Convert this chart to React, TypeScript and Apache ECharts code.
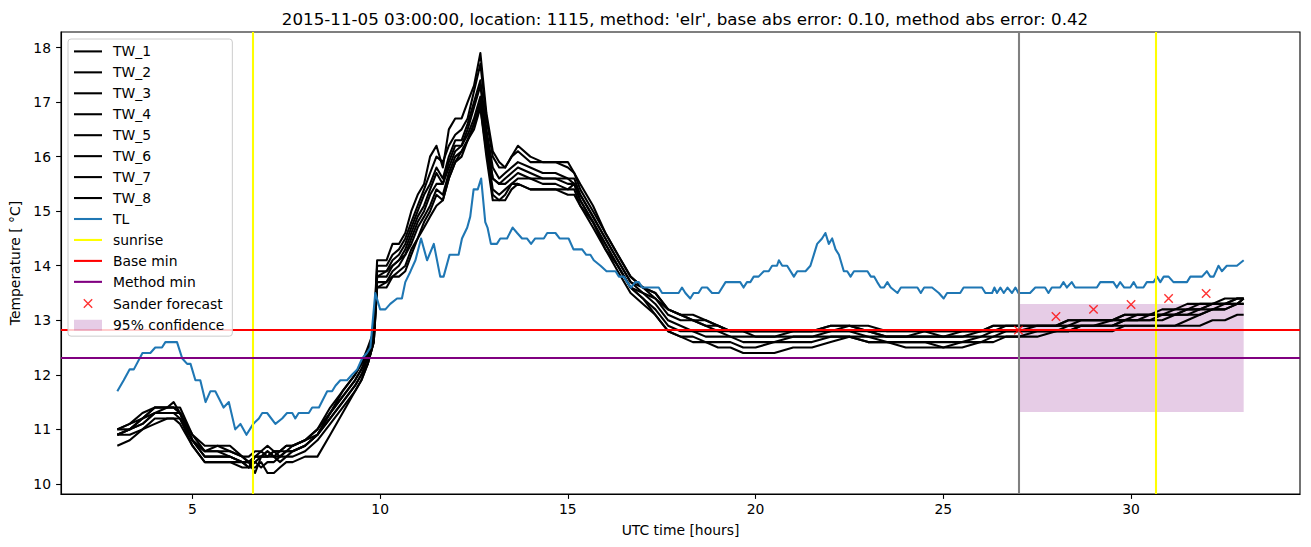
import React, { useEffect, useRef } from "react";
import * as echarts from "echarts";

// ---------- DATA ----------
const titleText =
  "2015-11-05 03:00:00, location: 1115, method: 'elr', base abs error: 0.10, method abs error: 0.42";

const xTicks = [5, 10, 15, 20, 25, 30];
const yTicks = [10, 11, 12, 13, 14, 15, 16, 17, 18];

// TL readings: [UTC hour, temperature]
const tlReadings: number[][] = [
  [3.0, 11.7], [3.17, 11.9], [3.33, 12.1], [3.44, 12.1], [3.67, 12.4], [3.88, 12.4], [4.01, 12.5], [4.19, 12.5], [4.28, 12.6], [4.59, 12.6],
  [4.73, 12.3], [4.86, 12.2], [4.95, 12.2], [5.08, 11.9], [5.21, 11.9], [5.35, 11.5], [5.48, 11.7], [5.61, 11.7], [5.83, 11.4], [5.97, 11.5],
  [6.14, 11.0], [6.28, 11.1], [6.44, 10.9], [6.62, 11.1], [6.77, 11.2], [6.86, 11.3], [6.99, 11.3], [7.21, 11.1], [7.39, 11.2], [7.52, 11.3],
  [7.66, 11.3], [7.74, 11.2], [7.83, 11.3], [8.1, 11.3], [8.19, 11.4], [8.37, 11.4], [8.59, 11.7], [8.72, 11.7], [8.81, 11.8], [8.94, 11.9],
  [9.12, 11.9], [9.25, 12.0], [9.39, 12.1], [9.52, 12.3], [9.65, 12.4], [9.74, 12.5], [9.87, 13.5], [10.0, 13.2], [10.14, 13.2], [10.27, 13.3],
  [10.45, 13.4], [10.58, 13.4], [10.67, 13.7], [10.81, 13.9], [10.94, 14.1], [11.09, 14.5], [11.25, 14.1], [11.43, 14.4], [11.6, 13.8], [11.69, 13.8],
  [11.85, 14.2], [12.09, 14.2], [12.18, 14.5], [12.32, 14.7], [12.4, 14.9], [12.49, 15.4], [12.6, 15.4], [12.69, 15.6], [12.8, 14.8], [12.86, 14.7],
  [12.95, 14.4], [13.11, 14.4], [13.2, 14.5], [13.38, 14.5], [13.53, 14.7], [13.65, 14.6], [13.78, 14.5], [13.91, 14.5], [14.02, 14.4], [14.13, 14.5],
  [14.36, 14.5], [14.45, 14.6], [14.67, 14.6], [14.78, 14.5], [15.02, 14.5], [15.15, 14.3], [15.38, 14.3], [15.49, 14.2], [15.6, 14.2], [15.69, 14.1],
  [15.87, 14.0], [16.03, 13.9], [16.27, 13.9], [16.36, 13.8], [16.49, 13.8], [16.58, 13.7], [16.68, 13.6], [16.8, 13.7], [16.89, 13.7], [16.98, 13.6],
  [17.42, 13.6], [17.51, 13.5], [17.95, 13.5], [18.04, 13.6], [18.13, 13.5], [18.26, 13.4], [18.35, 13.5], [18.48, 13.5], [18.57, 13.6], [18.71, 13.6],
  [18.84, 13.5], [19.02, 13.5], [19.2, 13.7], [19.59, 13.7], [19.68, 13.6], [19.77, 13.7], [19.86, 13.7], [19.95, 13.8], [20.08, 13.8], [20.22, 13.9],
  [20.35, 13.9], [20.44, 14.0], [20.57, 14.0], [20.62, 14.1], [20.71, 14.0], [20.84, 14.0], [21.02, 13.8], [21.11, 13.9], [21.33, 13.9], [21.46, 14.0],
  [21.55, 14.2], [21.64, 14.4], [21.77, 14.5], [21.86, 14.6], [21.95, 14.4], [22.04, 14.5], [22.13, 14.3], [22.22, 14.2], [22.35, 13.9], [22.44, 13.9],
  [22.53, 13.8], [22.62, 13.9], [22.98, 13.9], [23.07, 13.8], [23.16, 13.8], [23.24, 13.7], [23.33, 13.6], [23.42, 13.6], [23.51, 13.7], [23.6, 13.6],
  [23.78, 13.5], [23.87, 13.6], [24.31, 13.6], [24.4, 13.5], [24.49, 13.6], [24.7, 13.6], [24.88, 13.5], [25.01, 13.4], [25.1, 13.5], [25.45, 13.5],
  [25.54, 13.6], [26.03, 13.6], [26.12, 13.5], [26.3, 13.5], [26.36, 13.6], [26.43, 13.5], [26.52, 13.6], [26.61, 13.5], [26.71, 13.6], [26.83, 13.5],
  [26.92, 13.6], [27.0, 13.5], [27.31, 13.5], [27.45, 13.6], [27.71, 13.6], [27.8, 13.5], [27.89, 13.6], [28.11, 13.6], [28.2, 13.7], [28.29, 13.6],
  [28.42, 13.7], [28.51, 13.6], [29.09, 13.6], [29.18, 13.7], [29.53, 13.7], [29.62, 13.6], [29.71, 13.7], [29.82, 13.6], [29.98, 13.6], [30.07, 13.7],
  [30.15, 13.6], [30.33, 13.6], [30.42, 13.7], [30.6, 13.7], [30.69, 13.8], [30.78, 13.7], [30.87, 13.8], [31.0, 13.8], [31.13, 13.7], [31.49, 13.7],
  [31.58, 13.8], [31.89, 13.8], [32.02, 13.9], [32.11, 13.8], [32.2, 13.8], [32.33, 14.0], [32.42, 13.9], [32.55, 14.0], [32.82, 14.0], [33.0, 14.1],
];

// Common time stamps of the TW sensor readings
const twHours = [
  3.0, 3.33, 3.67, 4.0, 4.33, 4.5, 4.67, 5.0, 5.33, 5.67, 6.0, 6.33, 6.5, 6.67, 6.83, 7.0, 7.17, 7.33, 7.5, 7.67,
  8.0, 8.33, 8.67, 9.0, 9.33, 9.5, 9.67, 9.83,
  9.92, 10.17, 10.33, 10.5, 10.67, 10.83, 11.0, 11.17, 11.33, 11.5, 11.67, 11.83, 12.0, 12.17, 12.33, 12.5, 12.67,
  12.83, 13.0, 13.17, 13.33, 13.5, 13.67, 14.0, 14.33, 14.67, 15.0, 15.17, 15.33, 15.67, 16.0, 16.33, 16.67, 17.0, 17.33,
  17.67, 18.0, 18.33, 18.67, 19.0, 19.33, 19.67, 20.0, 20.5, 21.0, 21.5, 22.0, 22.5, 23.0, 23.5, 24.0, 24.5, 25.0, 25.5, 26.0, 26.33, 26.67, 27.0,
  27.5, 28.0, 28.33, 28.67, 29.0, 29.5, 29.83, 30.17, 30.5, 30.83, 31.17, 31.5, 31.83, 32.17, 32.5, 32.83, 33.0,
];

const TW_1 = [
  11.0, 11.1, 11.3, 11.4, 11.4, 11.5, 11.3, 10.8, 10.6, 10.6, 10.6, 10.5, 10.5, 10.6, 10.6, 10.7, 10.6, 10.6, 10.7, 10.7,
  10.8, 11.0, 11.4, 11.7, 12.0, 12.2, 12.5, 12.8,
  14.1, 14.1, 14.4, 14.4, 14.6, 15.0, 15.3, 15.5, 16.0, 16.2, 15.8, 16.5, 16.7, 16.7, 17.0, 17.3, 17.9,
  16.8, 16.1, 15.9, 15.8, 16.0, 16.2, 16.0, 15.9, 15.9, 15.9, 15.7, 15.5, 15.1, 14.6, 14.2, 13.8, 13.6, 13.5,
  13.2, 13.1, 13.1, 13.0, 12.9, 12.8, 12.8, 12.8, 12.8, 12.8, 12.8, 12.9, 12.9, 12.9, 12.8, 12.8, 12.8, 12.8, 12.8, 12.8, 12.9, 12.9, 12.9,
  12.9, 12.9, 13.0, 13.0, 13.0, 13.0, 13.1, 13.1, 13.1, 13.2, 13.2, 13.3, 13.3, 13.3, 13.4, 13.4, 13.4,
];
const TW_2 = [
  11.0, 11.1, 11.2, 11.4, 11.4, 11.4, 11.3, 10.9, 10.6, 10.7, 10.7, 10.5, 10.4, 10.5, 10.6, 10.5, 10.6, 10.6, 10.6, 10.7,
  10.8, 11.0, 11.3, 11.7, 12.0, 12.2, 12.4, 12.8,
  14.0, 14.0, 14.2, 14.3, 14.5, 14.8, 15.1, 15.4, 15.7, 16.0, 15.9, 16.2, 16.4, 16.5, 16.7, 17.2, 17.7,
  16.7, 16.0, 15.8, 15.8, 16.0, 16.1, 15.9, 15.9, 15.9, 15.8, 15.7, 15.4, 15.0, 14.6, 14.2, 13.8, 13.6, 13.5,
  13.2, 13.1, 13.0, 13.0, 12.9, 12.8, 12.8, 12.8, 12.8, 12.8, 12.8, 12.9, 12.9, 12.8, 12.8, 12.8, 12.8, 12.8, 12.8, 12.8, 12.9, 12.9, 12.9,
  12.9, 12.9, 13.0, 13.0, 13.0, 13.0, 13.1, 13.1, 13.1, 13.1, 13.2, 13.2, 13.3, 13.3, 13.3, 13.4, 13.4,
];
const TW_3 = [
  10.9, 11.0, 11.2, 11.3, 11.4, 11.4, 11.4, 10.9, 10.7, 10.7, 10.6, 10.5, 10.4, 10.5, 10.5, 10.6, 10.5, 10.6, 10.7, 10.7,
  10.8, 10.9, 11.3, 11.6, 11.9, 12.1, 12.4, 12.7,
  13.9, 13.9, 14.1, 14.2, 14.4, 14.7, 15.0, 15.3, 15.5, 15.8, 15.6, 16.0, 16.3, 16.3, 16.6, 17.0, 17.4,
  16.5, 15.8, 15.6, 15.7, 15.8, 15.9, 15.8, 15.7, 15.7, 15.6, 15.6, 15.3, 14.9, 14.5, 14.1, 13.7, 13.6, 13.4,
  13.2, 13.1, 13.0, 12.9, 12.9, 12.8, 12.8, 12.8, 12.8, 12.8, 12.8, 12.8, 12.9, 12.8, 12.7, 12.7, 12.8, 12.7, 12.8, 12.8, 12.8, 12.9, 12.9,
  12.9, 12.9, 12.9, 13.0, 13.0, 13.0, 13.0, 13.1, 13.1, 13.1, 13.1, 13.2, 13.2, 13.3, 13.3, 13.4, 13.4,
];
const TW_4 = [
  10.9, 11.0, 11.1, 11.3, 11.3, 11.3, 11.2, 10.8, 10.5, 10.5, 10.5, 10.4, 10.4, 10.4, 10.5, 10.5, 10.6, 10.5, 10.6, 10.6,
  10.7, 10.9, 11.3, 11.6, 11.9, 12.1, 12.3, 12.7,
  13.8, 13.9, 14.0, 14.1, 14.3, 14.6, 14.9, 15.1, 15.4, 15.7, 15.5, 15.9, 16.2, 16.2, 16.5, 16.9, 17.3,
  16.4, 15.6, 15.5, 15.6, 15.7, 15.8, 15.7, 15.6, 15.6, 15.5, 15.5, 15.3, 14.9, 14.5, 14.1, 13.7, 13.5, 13.4,
  13.1, 13.0, 13.0, 12.9, 12.8, 12.8, 12.8, 12.7, 12.7, 12.8, 12.8, 12.8, 12.8, 12.8, 12.7, 12.7, 12.7, 12.7, 12.7, 12.8, 12.8, 12.8, 12.8,
  12.9, 12.9, 12.9, 12.9, 12.9, 13.0, 13.0, 13.0, 13.1, 13.1, 13.1, 13.2, 13.2, 13.3, 13.3, 13.3, 13.4,
];
const TW_5 = [
  10.9, 11.0, 11.1, 11.3, 11.3, 11.3, 11.3, 10.8, 10.5, 10.5, 10.5, 10.4, 10.3, 10.5, 10.5, 10.6, 10.5, 10.5, 10.6, 10.6,
  10.7, 10.9, 11.2, 11.5, 11.8, 12.0, 12.3, 12.7,
  13.8, 13.8, 14.0, 14.1, 14.2, 14.5, 14.8, 15.0, 15.3, 15.5, 15.5, 15.8, 16.1, 16.2, 16.4, 16.7, 17.1,
  16.3, 15.6, 15.5, 15.5, 15.6, 15.7, 15.6, 15.6, 15.6, 15.6, 15.5, 15.2, 14.8, 14.4, 14.0, 13.6, 13.5, 13.3,
  13.0, 12.9, 12.8, 12.8, 12.8, 12.7, 12.7, 12.7, 12.7, 12.7, 12.7, 12.8, 12.8, 12.7, 12.7, 12.7, 12.7, 12.7, 12.7, 12.7, 12.8, 12.8, 12.8,
  12.8, 12.8, 12.9, 12.9, 12.9, 12.9, 13.0, 13.0, 13.0, 13.1, 13.1, 13.1, 13.2, 13.2, 13.3, 13.3, 13.4,
];
const TW_6 = [
  11.0, 11.0, 11.2, 11.4, 11.4, 11.4, 11.3, 10.8, 10.6, 10.6, 10.5, 10.4, 10.4, 10.2, 10.5, 10.5, 10.5, 10.4, 10.5, 10.6,
  10.7, 10.9, 11.2, 11.5, 11.8, 12.0, 12.2, 12.6,
  13.7, 13.7, 13.9, 14.0, 14.2, 14.4, 14.7, 14.9, 15.1, 15.4, 15.3, 15.7, 16.0, 16.1, 16.3, 16.6, 17.0,
  16.2, 15.4, 15.3, 15.4, 15.5, 15.6, 15.6, 15.5, 15.5, 15.4, 15.5, 15.2, 14.8, 14.4, 14.0, 13.6, 13.4, 13.2,
  12.9, 12.8, 12.8, 12.7, 12.7, 12.7, 12.6, 12.6, 12.6, 12.7, 12.7, 12.7, 12.7, 12.7, 12.6, 12.6, 12.6, 12.6, 12.6, 12.7, 12.7, 12.8, 12.8,
  12.8, 12.8, 12.8, 12.9, 12.9, 12.9, 13.0, 13.0, 13.0, 13.0, 13.1, 13.1, 13.1, 13.2, 13.2, 13.3, 13.3,
];
const TW_7 = [
  10.9, 10.9, 11.0, 11.2, 11.2, 11.2, 11.2, 10.7, 10.4, 10.4, 10.4, 10.4, 10.3, 10.4, 10.3, 10.4, 10.4, 10.5, 10.5, 10.5,
  10.6, 10.8, 11.1, 11.4, 11.7, 11.9, 12.2, 12.6,
  13.6, 13.7, 13.8, 13.9, 14.0, 14.3, 14.5, 14.8, 15.0, 15.3, 15.2, 15.6, 15.9, 16.1, 16.3, 16.6, 16.9,
  16.1, 15.3, 15.2, 15.3, 15.5, 15.5, 15.4, 15.4, 15.4, 15.4, 15.4, 15.1, 14.8, 14.3, 14.0, 13.6, 13.4, 13.1,
  12.8, 12.7, 12.7, 12.6, 12.6, 12.6, 12.5, 12.5, 12.6, 12.6, 12.6, 12.7, 12.7, 12.6, 12.6, 12.6, 12.6, 12.5, 12.6, 12.6, 12.7, 12.7, 12.7,
  12.8, 12.8, 12.8, 12.9, 12.9, 12.9, 12.9, 12.9, 12.9, 12.9, 12.9, 13.0, 13.1, 13.2, 13.2, 13.3, 13.3,
];
const TW_8 = [
  10.7, 10.8, 11.0, 11.1, 11.2, 11.2, 11.1, 10.7, 10.4, 10.4, 10.4, 10.3, 10.3, 10.3, 10.4, 10.2, 10.2, 10.3, 10.4, 10.4,
  10.5, 10.5, 10.9, 11.3, 11.7, 11.9, 12.2, 12.6,
  13.6, 13.6, 13.8, 13.8, 13.9, 14.2, 14.5, 14.7, 14.9, 15.1, 15.2, 15.6, 15.9, 16.0, 16.3, 16.5, 16.9,
  16.0, 15.2, 15.2, 15.2, 15.4, 15.5, 15.4, 15.4, 15.4, 15.3, 15.3, 15.1, 14.7, 14.3, 13.9, 13.5, 13.3, 13.1,
  12.8, 12.7, 12.6, 12.6, 12.5, 12.5, 12.4, 12.4, 12.4, 12.5, 12.5, 12.6, 12.7, 12.6, 12.6, 12.5, 12.5, 12.5, 12.5, 12.6, 12.6, 12.7, 12.7,
  12.7, 12.8, 12.8, 12.8, 12.8, 12.8, 12.9, 12.9, 12.9, 12.9, 12.9, 12.9, 12.9, 13.0, 13.0, 13.1, 13.1,
];
const twSeriesValues = [TW_1, TW_2, TW_3, TW_4, TW_5, TW_6, TW_7, TW_8];

const sunriseHours = [6.62, 30.65];
const forecastStartHour = 27;
const baseMin = 12.82;
const methodMin = 12.31;
const forecastHours = [27, 28, 29, 30, 31, 32];
const forecastTemps = [12.82, 13.07, 13.2, 13.29, 13.4, 13.49];
const confidenceHours = [27, 33];
const confidenceTemps = [11.32, 13.3];

// ---------- STYLE ----------
const FONT = "DejaVu Sans";
const BLACK = "#000000";
const TL_BLUE = "#1f77b4";
const YELLOW = "#ffff00";
const RED = "#ff0000";
const PURPLE = "#800080";
const GRAY = "#808080";
const CONF_FILL = "rgba(128,0,128,0.2)";
const LW = 2.08; // 1.5 pt at 100 dpi
const SPINE = 1.1;

const lineIcon = "path://M0,0M34,14M0,5.96L28,5.96L28,8.04L0,8.04Z";
const crossIcon = "path://M0,0M34,14M9.8,2.8L18.2,11.2M18.2,2.8L9.8,11.2";
const patchIcon = "path://M0,0M34,14M0,1.6L28,1.6L28,12.4L0,12.4Z";

function buildOption() {
  const twNames = twSeriesValues.map((_, i) => `TW_${i + 1}`);
  const series: any[] = [];

  twSeriesValues.forEach((vals, i) => {
    series.push({
      type: "line",
      name: twNames[i],
      data: twHours.map((h, j) => [h, vals[j]]),
      showSymbol: false,
      symbol: "none",
      color: BLACK,
      lineStyle: { color: BLACK, width: LW, join: "round" },
      emphasis: { disabled: true },
      silent: true,
      z: 2,
    });
  });

  series.push({
    type: "line",
    name: "TL",
    data: tlReadings.map((p) => [p[0], p[1]]),
    showSymbol: false,
    symbol: "none",
    color: TL_BLUE,
    lineStyle: { color: TL_BLUE, width: LW, join: "round" },
    emphasis: { disabled: true },
    silent: true,
    z: 3,
  });

  const vhLine = (name: string, color: string, data: any[], z = 4) => ({
    type: "line",
    name,
    data: [],
    color,
    silent: true,
    z,
    markLine: {
      silent: true,
      symbol: ["none", "none"],
      label: { show: false },
      emphasis: { disabled: true },
      lineStyle: { color, width: LW, type: "solid" },
      data,
      z,
    },
  });

  series.push(vhLine("sunrise", YELLOW, sunriseHours.map((h) => ({ xAxis: h }))));
  series.push(vhLine("Base min", RED, [{ yAxis: baseMin }]));
  series.push(vhLine("Method min", PURPLE, [{ yAxis: methodMin }]));
  series.push(vhLine("forecast start", GRAY, [{ xAxis: forecastStartHour }]));

  series.push({
    type: "scatter",
    name: "Sander forecast",
    data: forecastHours.map((h, i) => [h, forecastTemps[i]]),
    symbol: "path://M0,0L1,1M1,0L0,1",
    symbolSize: 8.4,
    itemStyle: { color: "rgba(0,0,0,0)", borderColor: RED, borderWidth: 1.4 },
    emphasis: { disabled: true },
    silent: true,
    z: 5,
  });

  series.push({
    type: "line",
    name: "95% confidence",
    data: [],
    color: CONF_FILL,
    silent: true,
    z: 1,
    markArea: {
      silent: true,
      itemStyle: { color: CONF_FILL },
      label: { show: false },
      emphasis: { disabled: true },
      data: [
        [
          { xAxis: confidenceHours[0], yAxis: confidenceTemps[0] },
          { xAxis: confidenceHours[1], yAxis: confidenceTemps[1] },
        ],
      ],
    },
  });

  const lineItem = (name: string, color: string) => ({
    name,
    icon: lineIcon,
    itemStyle: { color, borderWidth: 0 },
  });

  const legendData = [
    ...twNames.map((n) => lineItem(n, BLACK)),
    lineItem("TL", TL_BLUE),
    lineItem("sunrise", YELLOW),
    lineItem("Base min", RED),
    lineItem("Method min", PURPLE),
    {
      name: "Sander forecast",
      icon: crossIcon,
      itemStyle: { color: "rgba(0,0,0,0)", borderColor: RED, borderWidth: 1.4 },
    },
    { name: "95% confidence", icon: patchIcon, itemStyle: { color: CONF_FILL, borderWidth: 0 } },
  ];

  const axisCommon = {
    type: "value",
    axisLine: { show: true, onZero: false, lineStyle: { color: BLACK, width: SPINE } },
    splitLine: { show: false },
    nameLocation: "middle",
    nameTextStyle: { color: BLACK, fontSize: 13.9, fontFamily: FONT },
  };

  return {
    animation: false,
    backgroundColor: "#ffffff",
    textStyle: { fontFamily: FONT },
    title: {
      text: titleText,
      left: 680,
      top: 5,
      textAlign: "center",
      textStyle: { color: BLACK, fontSize: 16.7, fontWeight: "normal", fontFamily: FONT },
    },
    grid: {
      left: 61,
      right: 11,
      top: 32,
      bottom: 53,
      show: true,
      borderColor: BLACK,
      borderWidth: SPINE,
      backgroundColor: "transparent",
    },
    legend: {
      show: true,
      orient: "vertical",
      left: 68,
      top: 39,
      padding: [5.4, 8, 4, 5.3],
      itemGap: 6.95,
      itemWidth: 34,
      itemHeight: 14,
      selectedMode: false,
      backgroundColor: "rgba(255,255,255,0.8)",
      borderColor: "#cccccc",
      borderWidth: 1,
      borderRadius: 3,
      itemStyle: { borderWidth: 0 },
      textStyle: { color: BLACK, fontSize: 13.9, fontFamily: FONT, lineHeight: 14 },
      data: legendData,
      z: 10,
    },
    xAxis: {
      ...axisCommon,
      min: 1.5,
      max: 34.5,
      name: "UTC time [hours]",
      nameGap: 29,
      axisTick: { show: true, length: 4.9, customValues: xTicks, lineStyle: { color: BLACK, width: SPINE } },
      axisLabel: { color: BLACK, fontSize: 13.9, fontFamily: FONT, margin: 8, customValues: xTicks },
    },
    yAxis: {
      ...axisCommon,
      min: 9.815,
      max: 18.285,
      name: "Temperature [ °C]",
      nameGap: 34,
      nameRotate: 90,
      axisTick: { show: true, length: 4.9, customValues: yTicks, lineStyle: { color: BLACK, width: SPINE } },
      axisLabel: { color: BLACK, fontSize: 13.9, fontFamily: FONT, margin: 10, customValues: yTicks },
    },
    series,
  };
}

export default function App() {
  const ref = useRef<HTMLDivElement>(null);
  useEffect(() => {
    if (!ref.current) return;
    const chart = echarts.init(ref.current, null, { renderer: "svg" });
    chart.setOption(buildOption() as any);
    return () => chart.dispose();
  }, []);
  return (
    <div
      ref={ref}
      style={{ position: "absolute", left: 0, top: 0, width: 1311, height: 547, background: "#ffffff" }}
    />
  );
}
